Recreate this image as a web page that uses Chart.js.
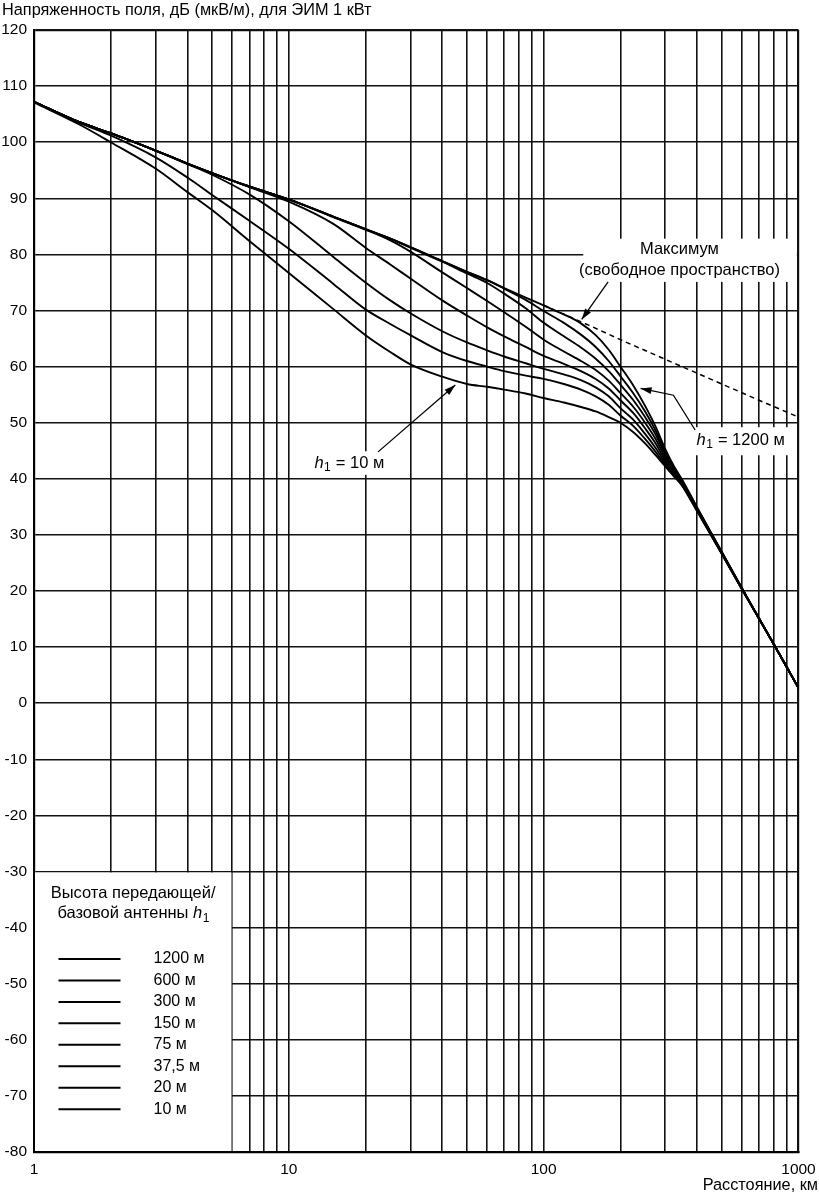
<!DOCTYPE html>
<html>
<head>
<meta charset="utf-8">
<script src="https://cdn.jsdelivr.net/npm/chart.js@4.4.1/dist/chart.umd.min.js"></script>
<style>
  body { margin: 0; background: #fff; }
  #wrap { width: 819px; height: 1196px; }
</style>
</head>
<body>
<div id="wrap"><canvas id="fieldChart" width="819" height="1196"></canvas></div>
<script>
// distances, km (shared by all curves)
var distKm = [1, 1.5, 2, 3, 4, 5, 7, 10, 15, 20, 25, 30, 40, 50, 60, 70, 85, 100, 120, 140, 160, 180, 200, 225, 250, 275, 300, 325, 350, 400, 500, 600, 700, 800, 900, 1000];

// field strength, dB(uV/m)
var h1200 = [107.2, 103.6, 101.6, 98.5, 96.2, 94.5, 92.1, 89.8, 86.7, 84.5, 82.8, 81.3, 78.8, 76.9, 75.4, 74.0, 72.3, 70.9, 69.3, 67.7, 65.6, 63.0, 60.0, 56.6, 53.0, 49.3, 45.3, 42.2, 39.8, 34.9, 27.0, 20.5, 15.1, 10.5, 6.4, 2.7];
var h600 = [107.2, 103.6, 101.6, 98.5, 96.2, 94.5, 92.1, 89.8, 86.7, 84.5, 82.8, 81.3, 78.8, 76.9, 75.4, 73.9, 71.9, 69.9, 67.8, 65.7, 63.5, 61.0, 58.3, 55.2, 52.0, 48.6, 44.8, 41.9, 39.6, 34.8, 26.9, 20.5, 15.1, 10.5, 6.4, 2.7];
var h300 = [107.2, 103.6, 101.6, 98.5, 96.2, 94.5, 92.1, 89.8, 86.7, 84.5, 82.8, 81.2, 78.7, 76.6, 74.9, 73.0, 70.4, 67.8, 65.4, 63.4, 61.4, 59.2, 56.8, 54.0, 51.0, 47.9, 44.3, 41.6, 39.4, 34.7, 26.9, 20.4, 15.1, 10.5, 6.4, 2.7];
var h150 = [107.2, 103.6, 101.6, 98.5, 96.2, 94.5, 92.1, 89.8, 86.6, 84.4, 82.5, 80.5, 76.8, 74.0, 71.7, 69.7, 67.1, 64.8, 62.7, 61.0, 59.4, 57.5, 55.3, 52.8, 50.0, 47.1, 43.8, 41.3, 39.2, 34.6, 26.8, 20.4, 15.1, 10.5, 6.4, 2.7];
var h75 = [107.2, 103.6, 101.6, 98.5, 96.2, 94.5, 92.0, 89.4, 85.4, 81.2, 78.2, 75.7, 71.8, 69.1, 67.0, 65.4, 63.5, 61.9, 60.5, 59.2, 57.8, 56.1, 54.0, 51.7, 49.0, 46.3, 43.3, 41.0, 39.0, 34.5, 26.8, 20.4, 15.1, 10.5, 6.4, 2.7];
var h37 = [107.2, 103.6, 101.6, 98.5, 96.1, 94.2, 90.7, 85.9, 79.5, 75.0, 71.8, 69.5, 66.3, 64.3, 62.9, 61.8, 60.6, 59.6, 58.6, 57.6, 56.3, 54.7, 52.6, 50.5, 48.0, 45.5, 42.9, 40.8, 38.9, 34.4, 26.7, 20.3, 15.1, 10.5, 6.4, 2.7];
var h20 = [107.2, 103.5, 101.2, 97.3, 93.7, 90.6, 86.0, 81.0, 74.7, 70.2, 67.6, 65.6, 62.6, 61.0, 60.0, 59.2, 58.4, 57.8, 56.9, 55.9, 54.7, 53.2, 51.3, 49.4, 47.1, 44.8, 42.5, 40.6, 38.8, 34.3, 26.7, 20.3, 15.1, 10.5, 6.4, 2.7];
var h10 = [107.1, 103.2, 100.0, 95.3, 91.1, 87.9, 82.4, 76.7, 70.2, 65.6, 62.6, 60.4, 58.2, 56.9, 56.4, 55.9, 55.2, 54.4, 53.6, 52.8, 52.0, 51.0, 50.0, 48.3, 46.3, 44.2, 42.2, 40.4, 38.7, 34.2, 26.6, 20.3, 15.1, 10.5, 6.4, 2.7];

// free space maximum (dashed part)
var maxDistKm = [100, 150, 200, 300, 500, 700, 1000];
var maxLevel = [70.9, 67.4, 64.8, 61.3, 56.9, 54.0, 51.0];

var heightLabels = ['1200 м', '600 м', '300 м', '150 м', '75 м', '37,5 м', '20 м', '10 м'];
var heightSeries = [h1200, h600, h300, h150, h75, h37, h20, h10];

var xMajorTicks = [1, 10, 100, 1000];
var yMin = -80, yMax = 120, yStep = 10;

var FONT = '"Liberation Sans", Arial, sans-serif';

function toPoints(xs, ys) {
    return xs.map(function (x, i) { return { x: x, y: ys[i] }; });
}

var datasets = [{
    label: 'Максимум',
    data: toPoints(maxDistKm, maxLevel),
    borderColor: '#000',
    borderWidth: 1.5,
    borderDash: [5, 4],
    pointRadius: 0,
    fill: false
}];
heightSeries.forEach(function (s, i) {
    datasets.push({
        label: heightLabels[i],
        data: toPoints(distKm, s),
        borderColor: '#000',
        borderWidth: 1.9,
        pointRadius: 0,
        cubicInterpolationMode: 'monotone',
        fill: false
    });
});

// minor log grid positions between the labelled decades
var xGridVals = [];
for (var k = 0; k < xMajorTicks.length - 1; k++) {
    for (var m = 1; m < 10; m++) xGridVals.push(xMajorTicks[k] * m);
}
xGridVals.push(xMajorTicks[xMajorTicks.length - 1]);

function arrow(ctx, pts) {
    ctx.beginPath();
    ctx.moveTo(pts[0][0], pts[0][1]);
    for (var i = 1; i < pts.length; i++) ctx.lineTo(pts[i][0], pts[i][1]);
    ctx.stroke();
    var a = pts[pts.length - 2], b = pts[pts.length - 1];
    var ang = Math.atan2(b[1] - a[1], b[0] - a[0]);
    var L = 11, W = 3.5;
    ctx.beginPath();
    ctx.moveTo(b[0], b[1]);
    ctx.lineTo(b[0] - L * Math.cos(ang) + W * Math.sin(ang), b[1] - L * Math.sin(ang) - W * Math.cos(ang));
    ctx.lineTo(b[0] - L * Math.cos(ang) - W * Math.sin(ang), b[1] - L * Math.sin(ang) + W * Math.cos(ang));
    ctx.closePath();
    ctx.fill();
}

// "<before>h1<after>" with italic h and subscript 1, centred on cx
function hLabel(ctx, before, after, cx, cy, size) {
    var fNorm = size + 'px ' + FONT;
    var fItal = 'italic ' + size + 'px ' + FONT;
    var fSub = Math.round(size * 0.7) + 'px ' + FONT;
    ctx.font = fNorm; var w0 = ctx.measureText(before).width;
    ctx.font = fItal; var w1 = ctx.measureText('h').width;
    ctx.font = fSub; var w2 = ctx.measureText('1').width;
    ctx.font = fNorm; var w3 = ctx.measureText(after).width;
    var x = cx - (w0 + w1 + w2 + w3) / 2;
    ctx.textAlign = 'left';
    ctx.textBaseline = 'middle';
    ctx.font = fNorm; ctx.fillText(before, x, cy);
    ctx.font = fItal; ctx.fillText('h', x + w0, cy);
    ctx.font = fSub; ctx.fillText('1', x + w0 + w1 + 0.5, cy + 5);
    ctx.font = fNorm; ctx.fillText(after, x + w0 + w1 + w2 + 1, cy);
}

var paperPlugin = {
    id: 'paper',
    beforeDatasetsDraw: function (chart) {
        var ctx = chart.ctx, xs = chart.scales.x, ys = chart.scales.y, area = chart.chartArea;
        ctx.save();
        ctx.fillStyle = '#fff';
        // legend panel
        var bx1 = xs.getPixelForValue(6), by0 = ys.getPixelForValue(-30);
        ctx.fillRect(area.left + 1, by0 + 1, bx1 - area.left - 1.8, area.bottom - by0 - 2);
        // white backs behind annotation text
        function blank(d0, d1, v0, v1) {
            var x0 = xs.getPixelForValue(d0), x1 = xs.getPixelForValue(d1);
            var y0 = ys.getPixelForValue(v0), y1 = ys.getPixelForValue(v1);
            ctx.fillRect(x0, y0, x1 - x0, y1 - y0);
        }
        blank(143, 985, 82.8, 75.1);
        blank(372, 950, 49.2, 44.2);
        blank(15.2, 24.8, 44.9, 40.7);
        ctx.restore();
    },
    afterDatasetsDraw: function (chart) {
        var ctx = chart.ctx, xs = chart.scales.x, ys = chart.scales.y, area = chart.chartArea;
        function P(d, v) { return [xs.getPixelForValue(d), ys.getPixelForValue(v)]; }
        ctx.save();
        ctx.fillStyle = '#000';
        ctx.strokeStyle = '#000';

        // legend
        var bx1 = xs.getPixelForValue(6), by0 = ys.getPixelForValue(-30);
        var cx = (area.left + bx1) / 2;
        ctx.font = '16.5px ' + FONT;
        ctx.textAlign = 'center';
        ctx.textBaseline = 'middle';
        ctx.fillText('Высота передающей/', cx, by0 + 22);
        hLabel(ctx, 'базовой антенны ', '', cx, by0 + 42, 16.5);

        ctx.lineWidth = 2;
        ctx.font = '16px ' + FONT;
        ctx.textBaseline = 'middle';
        heightLabels.forEach(function (lab, i) {
            var yy = by0 + 87.5 + i * 21.45;
            ctx.beginPath();
            ctx.moveTo(area.left + 24.5, yy);
            ctx.lineTo(area.left + 86.5, yy);
            ctx.stroke();
            ctx.textAlign = 'left';
            ctx.fillText(lab, area.left + 119.5, yy);
        });

        // annotations
        ctx.font = '16.5px ' + FONT;
        ctx.textAlign = 'center';
        ctx.textBaseline = 'middle';
        var mc = P(341, 80.8);
        ctx.fillText('Максимум', mc[0], mc[1]);
        var mc2 = P(341, 77.2);
        ctx.fillText('(свободное пространство)', mc2[0], mc2[1]);

        var t1 = P(590, 46.9);
        hLabel(ctx, '', ' = 1200 м', t1[0], t1[1], 16.5);
        var t2 = P(17.2, 42.8);
        hLabel(ctx, '', ' = 10 м', t2[0], t2[1], 16.5);

        ctx.lineWidth = 1.3;
        arrow(ctx, [P(179, 75.1), P(141, 68.4)]);
        arrow(ctx, [P(22.4, 44.8), P(45, 56.7)]);
        arrow(ctx, [P(393, 48.7), P(323, 54.9), P(240, 56.1)]);

        // axis titles
        ctx.font = '16.3px ' + FONT;
        ctx.textAlign = 'left';
        ctx.textBaseline = 'middle';
        ctx.fillText('Напряженность поля, дБ (мкВ/м), для ЭИМ 1 кВт', 2, 11);
        ctx.textAlign = 'right';
        ctx.fillText('Расстояние, км', 818, 1186);
        ctx.restore();
    }
};

var ctx = document.getElementById('fieldChart').getContext('2d');
var fieldChart = new Chart(ctx, {
    type: 'line',
    data: { datasets: datasets },
    options: {
        responsive: false,
        animation: false,
        events: [],
        layout: { padding: { top: 30, right: 20.5, left: 0, bottom: 0 } },
        plugins: { legend: { display: false }, tooltip: { enabled: false } },
        scales: {
            x: {
                type: 'logarithmic',
                min: 1,
                max: 1000,
                afterBuildTicks: function (scale) {
                    scale.ticks = xGridVals.map(function (v) { return { value: v }; });
                },
                afterFit: function (scale) {
                    scale.height = 44;
                    scale.paddingLeft = 0;
                    scale.paddingRight = 0;
                },
                ticks: {
                    autoSkip: false,
                    maxRotation: 0,
                    padding: 8,
                    color: '#000',
                    font: { family: FONT, size: 15.5 },
                    callback: function (value) {
                        return xMajorTicks.indexOf(value) >= 0 ? String(value) : '';
                    }
                },
                grid: {
                    color: '#111',
                    lineWidth: function (c) { return c.tick && c.tick.value === 1000 ? 2.2 : 1.6; },
                    drawTicks: false
                },
                border: { color: '#000', width: 2.2 }
            },
            y: {
                type: 'linear',
                min: yMin,
                max: yMax,
                afterFit: function (scale) {
                    scale.width = 34;
                    scale.paddingTop = 0;
                    scale.paddingBottom = 0;
                },
                ticks: {
                    stepSize: yStep,
                    autoSkip: false,
                    padding: 7,
                    color: '#000',
                    font: { family: FONT, size: 15.5 },
                    callback: function (value) { return String(value); }
                },
                grid: {
                    color: '#111',
                    lineWidth: function (c) { return c.tick && c.tick.value === yMax ? 2.2 : 1.6; },
                    drawTicks: false
                },
                border: { color: '#000', width: 2.2 }
            }
        }
    },
    plugins: [paperPlugin]
});
</script>
</body>
</html>
